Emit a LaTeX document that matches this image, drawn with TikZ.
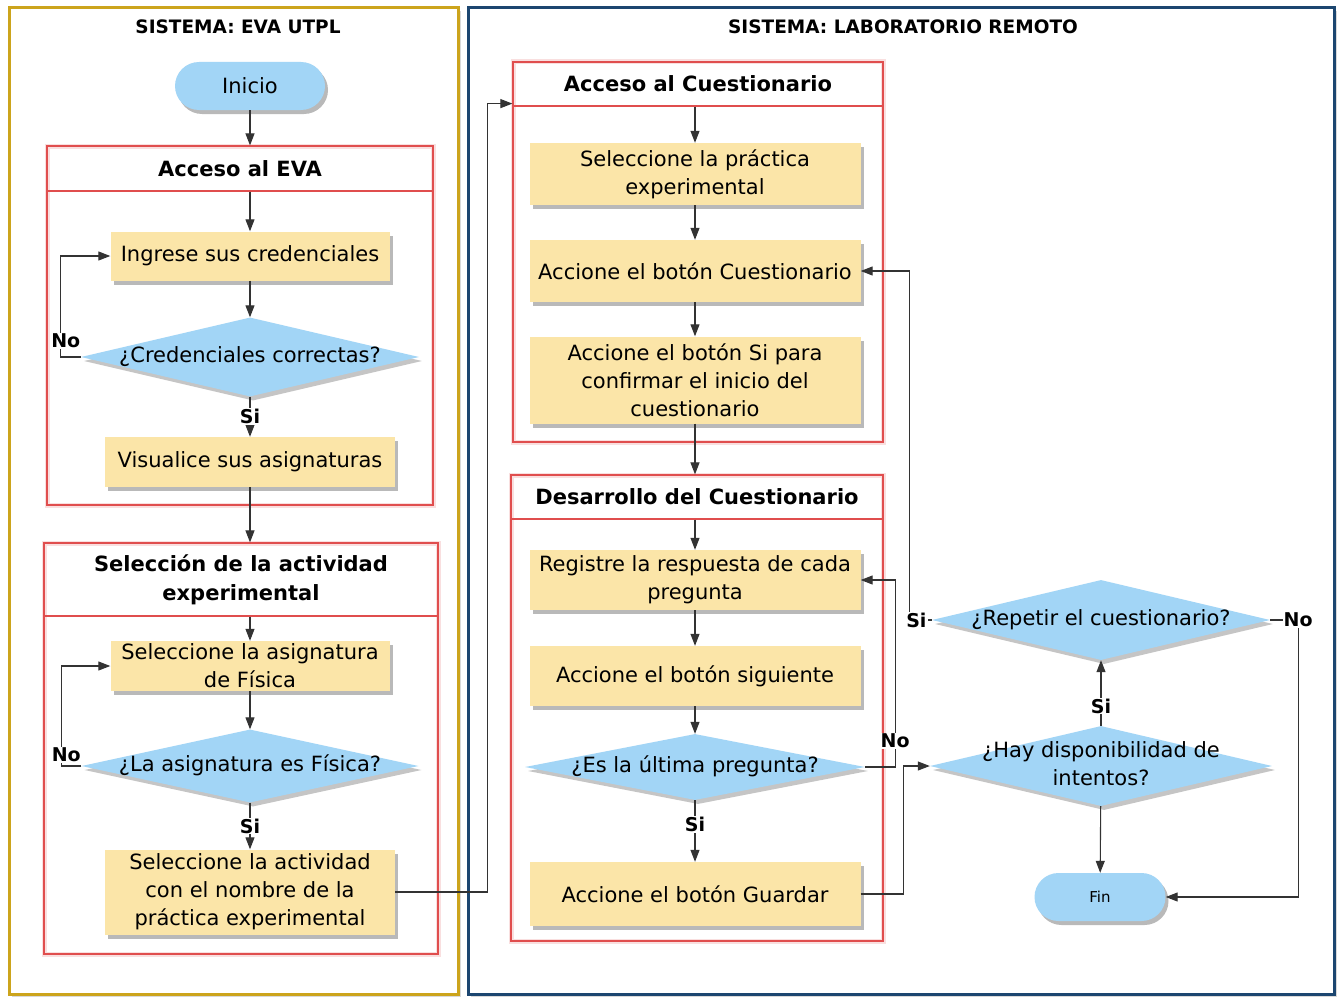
\documentclass[tikz,border=0pt]{standalone}
\usepackage{fontspec}
\setmainfont{DejaVu Sans}
\usetikzlibrary{shapes.geometric, shadows, arrows.meta}

\definecolor{amarilloPaso}{RGB}{251,229,168}
\definecolor{celeste}{RGB}{162,213,246}
\definecolor{rojoGrupo}{RGB}{224,78,78}
\definecolor{oroCarril}{RGB}{204,164,28}
\definecolor{azulCarril}{RGB}{28,70,112}

% texto de ancho cero: el rombo toma su tamano de minimum width/height
\newcommand{\textorombo}[1]{\makebox[0pt]{\begin{tabular}{@{}c@{}}#1\end{tabular}}}

\begin{document}
\begin{tikzpicture}[x=1pt, y=-1pt,
    carril/.style={rectangle, fill=white, line width=3pt, drop shadow={shadow xshift=3pt, shadow yshift=-3pt, opacity=0.3}},
    titcarril/.style={font=\bfseries\fontsize{18.5}{22}\selectfont},
    grupo/.style={rectangle, draw=rojoGrupo, line width=1.2pt, preaction={draw=rojoGrupo!18, line width=5pt}},
    cabecera/.style={rectangle, draw=rojoGrupo, line width=1.2pt, anchor=north, align=center, font=\bfseries\fontsize{21}{29}\selectfont},
    paso/.style={rectangle, fill=amarilloPaso, align=center, inner sep=0pt, font=\fontsize{21}{28}\selectfont, drop shadow={shadow xshift=3pt, shadow yshift=-4pt, opacity=0.55}},
    decision/.style={diamond, fill=celeste, inner sep=0pt, font=\fontsize{21}{28}\selectfont, drop shadow={shadow xshift=3pt, shadow yshift=-4pt, opacity=0.45}},
    terminal/.style={rectangle, rounded corners=24pt, fill=celeste, minimum height=48pt, font=\fontsize{21}{24}\selectfont, drop shadow={shadow xshift=3pt, shadow yshift=-4pt, opacity=0.55}},
    flecha/.style={-{Triangle[length=12pt, width=9pt]}, line width=1.1pt, draw=black!80},
    etiq/.style={fill=white, inner sep=1pt, font=\bfseries\fontsize{19}{22}\selectfont},
]
\useasboundingbox (0,0) rectangle (1343,998);

% carriles
\node[carril, draw=oroCarril, minimum width=449, minimum height=986] (carrilEVA) at (233.5,501) {};
\node[carril, draw=azulCarril, minimum width=866, minimum height=986] (carrilLab) at (901,501) {};
\node[titcarril] (titEVA) at (238,27) {SISTEMA: EVA UTPL};
\node[titcarril] (titLab) at (903,27) {SISTEMA: LABORATORIO REMOTO};

% sistema EVA
\node[terminal, minimum width=150] (inicio) at (250,86) {Inicio};

\node[grupo, minimum width=386, minimum height=359] (grupoEVA) at (240,325.5) {};
\node[cabecera, minimum width=386, minimum height=45] (cabEVA) at (grupoEVA.north) {Acceso al EVA};
\node[paso, minimum width=279, minimum height=49] (credenciales) at (250,256) {Ingrese sus credenciales};
\node[decision, minimum width=338, minimum height=79] (correctas) at (250,357) {\textorombo{¿Credenciales correctas?}};
\node[paso, minimum width=290, minimum height=50] (asignaturas) at (250,462) {Visualice sus asignaturas};

\node[grupo, minimum width=394, minimum height=411] (grupoSel) at (241,748.5) {};
\node[cabecera, minimum width=394, minimum height=73] (cabSel) at (grupoSel.north) {Selección de la actividad\\experimental};
\node[paso, minimum width=279, minimum height=50] (fisica) at (250,666) {Seleccione la asignatura\\de Física};
\node[decision, minimum width=337, minimum height=73] (esFisica) at (250,766) {\textorombo{¿La asignatura es Física?}};
\node[paso, minimum width=290, minimum height=85] (actividad) at (250,892) {Seleccione la actividad\\con el nombre de la\\práctica experimental};

% laboratorio remoto
\node[grupo, minimum width=370, minimum height=380] (grupoAcc) at (698,252) {};
\node[cabecera, minimum width=370, minimum height=44] (cabAcc) at (grupoAcc.north) {Acceso al Cuestionario};
\node[paso, minimum width=331, minimum height=62] (practica) at (695,174) {Seleccione la práctica\\experimental};
\node[paso, minimum width=331, minimum height=62] (botonCuest) at (695,271) {Accione el botón Cuestionario};
\node[paso, minimum width=331, minimum height=87] (botonSi) at (695,380) {Accione el botón Si para\\confirmar el inicio del\\cuestionario};

\node[grupo, minimum width=372, minimum height=466] (grupoDes) at (697,708) {};
\node[cabecera, minimum width=372, minimum height=44] (cabDes) at (grupoDes.north) {Desarrollo del Cuestionario};
\node[paso, minimum width=331, minimum height=60] (registre) at (695,580) {Registre la respuesta de cada\\pregunta};
\node[paso, minimum width=331, minimum height=60] (siguiente) at (695,676) {Accione el botón siguiente};
\node[decision, minimum width=340, minimum height=66] (ultima) at (695,767) {\textorombo{¿Es la última pregunta?}};
\node[paso, minimum width=331, minimum height=64] (guardar) at (695,894) {Accione el botón Guardar};

\node[decision, minimum width=338, minimum height=80] (repetir) at (1101,620) {\textorombo{¿Repetir el cuestionario?}};
\node[decision, minimum width=342, minimum height=80] (intentos) at (1101,766) {\textorombo{¿Hay disponibilidad de\\intentos?}};
\node[terminal, minimum width=131, font=\fontsize{15}{17}\selectfont] (fin) at (1100,897) {Fin};

% conexiones
\draw[flecha] (inicio) -- (inicio |- cabEVA.north);
\draw[flecha] (cabEVA.south -| credenciales) -- (credenciales);
\draw[flecha] (credenciales) -- (correctas);
\draw[flecha] (correctas) -- node[etiq] {Si} (asignaturas);
\draw[flecha] (correctas.west) -- ++(-20,0) |- node[etiq, pos=0.08, xshift=5pt] {No} (credenciales.west);
\draw[flecha] (asignaturas) -- (asignaturas |- cabSel.north);
\draw[flecha] (cabSel.south -| fisica) -- (fisica);
\draw[flecha] (fisica) -- (esFisica);
\draw[flecha] (esFisica) -- node[etiq] {Si} (actividad);
\draw[flecha] (esFisica.west) -- ++(-20,0) |- node[etiq, pos=0.055, xshift=5pt] {No} (fisica.west);
\draw[flecha] (actividad.east) -- ++(92,0) |- ([yshift=3pt]cabAcc.south west);

\draw[flecha] (cabAcc.south -| practica) -- (practica);
\draw[flecha] (practica) -- (botonCuest);
\draw[flecha] (botonCuest) -- (botonSi);
\draw[flecha] (botonSi) -- (botonSi |- cabDes.north);
\draw[flecha] (cabDes.south -| registre) -- (registre);
\draw[flecha] (registre) -- (siguiente);
\draw[flecha] (siguiente) -- (ultima);
\draw[flecha] (ultima) -- node[etiq, pos=0.4] {Si} (guardar);
\draw[flecha] (ultima.east) -- ++(30,0) |- node[etiq, pos=0.07] {No} (registre.east);
\draw[flecha] (guardar.east) -- ++(43,0) |- (intentos.west);
\draw[flecha] (intentos) -- node[etiq, pos=0.3] {Si} (repetir);
\draw[flecha] (intentos) -- (fin);
\draw[flecha] (repetir.west) -- node[etiq, pos=0.7] {Si} ++(-22,0) |- (botonCuest.east);
\draw[flecha] (repetir.east) -- ++(28,0) node[etiq] {No} |- (fin.east);
\end{tikzpicture}
\end{document}
